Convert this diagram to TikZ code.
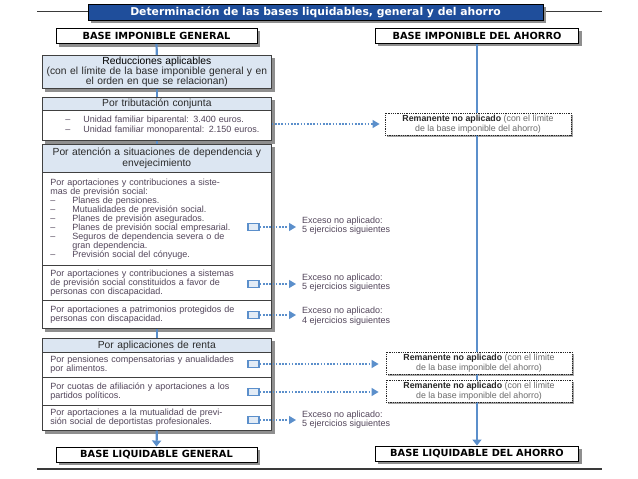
\documentclass[tikz,border=0pt]{standalone}
\usepackage{fontspec}
\setmainfont{Liberation Sans}
\newfontfamily\heavy{DejaVu Sans}
\usetikzlibrary{arrows.meta,backgrounds}
\definecolor{bluel}{HTML}{5B8FCB}
\definecolor{titleblue}{HTML}{1F4E9B}
\definecolor{headfill}{HTML}{DCE6F2}
\definecolor{bordc}{HTML}{404040}
\definecolor{shadc}{HTML}{8F8F8F}
\definecolor{bodytxt}{HTML}{52455A}
\definecolor{headtxt}{HTML}{2A2A2A}
\definecolor{remgray}{HTML}{6A6A6A}
\definecolor{sqfill}{HTML}{E3ECF6}
\definecolor{rulec}{HTML}{3A3A3A}
\newcommand\dl[1]{\makebox[22pt][l]{–}#1}
\newcommand\dlt[1]{\hspace*{15pt}\makebox[18pt][l]{–}#1}
\newcommand\js[1]{\makebox[190pt][s]{#1}}
\begin{document}
\begin{tikzpicture}[x=1pt,y=-1pt,
  titlebox/.style={draw=black, line width=0.8pt, fill=titleblue, text=white, minimum width=455pt, minimum height=16pt, inner sep=0pt, font=\heavy\bfseries\fontsize{10.8}{12}\selectfont},
  basebox/.style={draw=black, line width=0.9pt, fill=white, inner sep=0pt, minimum height=15pt, font=\heavy\bfseries\fontsize{9.8}{11}\selectfont},
  colbox/.style={draw=bordc, line width=0.7pt, anchor=north west, minimum width=229pt, inner ysep=0pt},
  headbox/.style={colbox, fill=headfill, align=center, inner xsep=2pt, text width=225pt, font=\fontsize{10.3}{10.3}\selectfont, text=headtxt},
  bodybox/.style={colbox, fill=white, align=left, inner xsep=8pt, text width=213pt, font=\fontsize{9}{9}\selectfont, text=bodytxt},
  exbox/.style={anchor=west, align=left, inner sep=0pt, font=\fontsize{9}{9.6}\selectfont, text=bodytxt},
  rembox/.style={draw=black!85, line width=0.8pt, densely dotted, fill=white, minimum width=186pt, minimum height=22pt, inner sep=0pt, align=center, font=\fontsize{8.8}{9.6}\selectfont, text=remgray},
  sqbox/.style={draw=bluel, line width=1.6pt, fill=sqfill, minimum width=11pt, minimum height=7pt, inner sep=0pt},
  conn/.style={draw=bluel, line width=2.2pt},
  tipb/.style={-{Triangle[width=9pt,length=6pt]}},
  dotarrow/.style={draw=bluel, line width=1.3pt, dash pattern=on 1.6pt off 1.6pt, -{Triangle[width=8pt,length=7pt]}},
  shad/.style={fill=shadc, draw=none}
]
\useasboundingbox (0,0) rectangle (638,479);

% title
\node[titlebox] (title) at (315.5,12) {Determinación de las bases liquidables, general y del ahorro};

% bases
\node[basebox, minimum width=201pt] (big) at (156.5,36) {BASE IMPONIBLE GENERAL};
\node[basebox, minimum width=203pt] (bia) at (477,35.5) {BASE IMPONIBLE DEL AHORRO};
\node[basebox, minimum width=201pt] (blg) at (156.5,454.5) {BASE LIQUIDABLE GENERAL};
\node[basebox, minimum width=203pt] (bla) at (477,453.5) {BASE LIQUIDABLE DEL AHORRO};

% left column
\node[headbox, minimum height=33pt] (red) at (42,55) {{\color{black}Reducciones aplicables}\\(con el límite de la base imponible general y en\\el orden en que se relacionan)};
\node[headbox, minimum height=13pt] (tribh) at (42,97) {Por tributación conjunta};
\node[bodybox, minimum height=30pt] (tribb) at (42,110) {\dlt{Unidad familiar biparental: 3.400 euros.}\\[1.5pt]\dlt{Unidad familiar monoparental: 2.150 euros.}};
\node[headbox, minimum height=28pt] (atenh) at (42,144) {Por atención a situaciones de dependencia y\\envejecimiento};
\node[bodybox, minimum height=93pt] (sub1) at (42,172) {Por aportaciones y contribuciones a siste-\\mas de previsión social:\\\dl{Planes de pensiones.}\\\dl{Mutualidades de previsión social.}\\\dl{Planes de previsión asegurados.}\\\dl{Planes de previsión social empresarial.}\\\dl{Seguros de dependencia severa o de}\\\hspace*{22pt}gran dependencia.\\\dl{Previsión social del cónyuge.}};
\node[bodybox, minimum height=35pt] (sub2) at (42,265) {\js{Por aportaciones y contribuciones a sistemas}\\\js{de previsión social constituidos a favor de}\\personas con discapacidad.};
\node[bodybox, minimum height=28pt] (sub3) at (42,300) {\js{Por aportaciones a patrimonios protegidos de}\\personas con discapacidad.};
\node[headbox, minimum height=14pt] (aplh) at (42,338) {Por aplicaciones de renta};
\node[bodybox, minimum height=25pt] (item1) at (42,352) {\js{Por pensiones compensatorias y anualidades}\\por alimentos.};
\node[bodybox, minimum height=28pt] (item2) at (42,377) {\js{Por cuotas de afiliación y aportaciones a los}\\partidos políticos.};
\node[bodybox, minimum height=25pt] (item3) at (42,405) {\js{Por aportaciones a la mutualidad de previ-}\\sión social de deportistas profesionales.};

% right dotted boxes
\node[rembox] (rem1) at (478,124) {{\color{black!85}\bfseries Remanente no aplicado} (con el límite\\de la base imponible del ahorro)};
\node[rembox] (rem2) at (479,363) {{\color{black!85}\bfseries Remanente no aplicado} (con el límite\\de la base imponible del ahorro)};
\node[rembox] (rem3) at (479,391) {{\color{black!85}\bfseries Remanente no aplicado} (con el límite\\de la base imponible del ahorro)};

% squares
\node[sqbox] (sq1) at (253.5,227) {};
\node[sqbox] (sq2) at (253.5,284) {};
\node[sqbox] (sq3) at (253.5,315) {};
\node[sqbox] (sq4) at (253.5,364) {};
\node[sqbox] (sq5) at (253.5,392) {};
\node[sqbox] (sq6) at (253.5,420) {};

% exceso labels
\node[exbox] (ex1) at (302,225.5) {Exceso no aplicado:\\5 ejercicios siguientes};
\node[exbox] (ex2) at (302,282.5) {Exceso no aplicado:\\5 ejercicios siguientes};
\node[exbox] (ex3) at (302,316) {Exceso no aplicado:\\4 ejercicios siguientes};
\node[exbox] (ex4) at (302,419.5) {Exceso no aplicado:\\5 ejercicios siguientes};

% connectors left column
\draw[conn] (big.south) -- (red.north);
\draw[conn] (red.south) -- (tribh.north);
\draw[conn] (tribb.south) -- (atenh.north);
\draw[conn] (sub3.south) -- (aplh.north);
\draw[conn, tipb] (item3.south) -- (blg.north);

% dotted arrows
\draw[dotarrow] (rem1.west -| tribb.east) -- ([xshift=-5pt]rem1.west);
\draw[dotarrow] (sq1.east) -- ([xshift=-6pt]ex1.west |- sq1.east);
\draw[dotarrow] (sq2.east) -- ([xshift=-6pt]ex2.west |- sq2.east);
\draw[dotarrow] (sq3.east) -- ([xshift=-6pt]ex3.west |- sq3.east);
\draw[dotarrow] (sq4.east) -- ([xshift=-7pt]rem2.west |- sq4.east);
\draw[dotarrow] (sq5.east) -- ([xshift=-7pt]rem3.west |- sq5.east);
\draw[dotarrow] (sq6.east) -- ([xshift=-6pt]ex4.west |- sq6.east);

\begin{scope}[on background layer]
  % rules
  \draw[rulec, line width=1pt] (37,11) -- (602,11);
  \draw[rulec, line width=1.5pt] (37,469) -- (602,469);
  % shadows
  \fill[shad] ([shift={(3,3)}]title.north west) rectangle ([shift={(3,3)}]title.south east);
  \foreach \n in {big,bia,blg,bla}{
    \fill[shad] ([shift={(3,3)}]\n.north west) rectangle ([shift={(3,3)}]\n.south east);
  }
  \fill[shad] ([shift={(3,3)}]red.north west) rectangle ([shift={(3,3)}]red.south east);
  \fill[shad] ([shift={(3,3)}]tribh.north west) rectangle ([shift={(3,3)}]tribb.south east);
  \fill[shad] ([shift={(3,3)}]atenh.north west) rectangle ([shift={(3,3)}]sub3.south east);
  \fill[shad] ([shift={(3,3)}]aplh.north west) rectangle ([shift={(3,3)}]item3.south east);
  \foreach \n in {rem1,rem2,rem3}{
    \fill[shadc!80] ([shift={(2,2)}]\n.north west) rectangle ([shift={(2,2)}]\n.south east);
  }
  % right connector
  \draw[conn, tipb] (bia.south) -- (bla.north);
\end{scope}
\end{tikzpicture}
\end{document}
